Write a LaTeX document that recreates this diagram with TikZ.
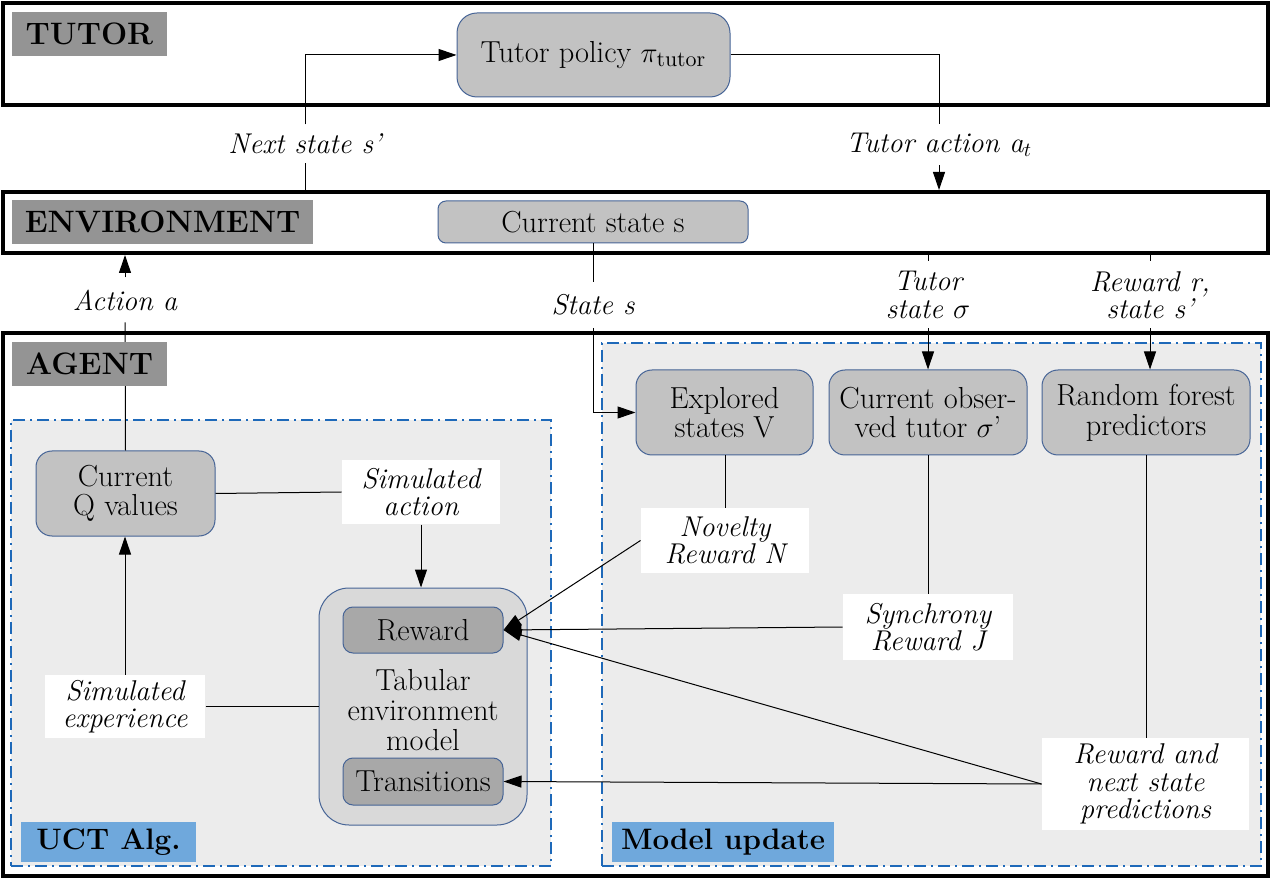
\documentclass[tikz,border=0pt]{standalone}
\usepackage{amsmath}
\usepackage{tikz}
\usetikzlibrary{arrows.meta}
\definecolor{taggray}{RGB}{148,148,148}
\definecolor{blockgray}{RGB}{194,194,194}
\definecolor{blockedge}{RGB}{70,100,150}
\definecolor{modelgray}{RGB}{217,217,217}
\definecolor{partgray}{RGB}{168,168,168}
\definecolor{regiongray}{RGB}{236,236,236}
\definecolor{regionblue}{RGB}{30,105,185}
\definecolor{tagblue}{RGB}{111,168,220}

\tikzset{
    layer/.style={draw, line width=2pt, minimum width=632.5pt},
    tag/.style={fill=taggray, inner sep=0pt, minimum height=22pt, font=\bfseries\fontsize{15.5}{16}\selectfont},
    subtag/.style={fill=tagblue, inner sep=0pt, minimum height=20pt, font=\bfseries\fontsize{14.8}{15}\selectfont},
    region/.style={draw=regionblue, fill=regiongray, line width=1pt, dash pattern=on 6pt off 2.5pt on 1pt off 2.5pt},
    block/.style={draw=blockedge, fill=blockgray, rounded corners=8pt, align=center, inner sep=1pt, line width=0.5pt, font=\fontsize{15.2}{14.8}\selectfont},
    part/.style={block, fill=partgray, rounded corners=5pt},
    note/.style={fill=white, align=center, inner sep=1pt, font=\itshape\fontsize{14.3}{13.7}\selectfont},
    flow/.style={-{Triangle[length=9pt,width=6pt]}}
}

\begin{document}
\begin{tikzpicture}[x=0.5pt, y=-0.5pt, line width=0.5pt]
    \useasboundingbox (0,0) rectangle (1273,881);

    \node[layer, minimum height=51pt] (tutorlayer) at (635.5,54) {};
    \node[layer, minimum height=30.5pt] (envlayer) at (635.5,222.5) {};
    \node[layer, minimum height=271.5pt] (agentlayer) at (635.5,604.5) {};

    \node[region, minimum width=270pt, minimum height=223pt] (uctregion) at (281,643) {};
    \node[region, minimum width=329.5pt, minimum height=261.5pt] (modelregion) at (931.5,604.5) {};

    \node[block, rounded corners=10pt, minimum width=136.5pt, minimum height=42pt] (tutorpolicy) at (593.5,55) {Tutor policy $\pi_{\mathrm{tutor}}$};
    \node[block, rounded corners=4pt, minimum width=155pt, minimum height=21pt] (curstate) at (593,222) {Current state s};

    \node[block, minimum width=89.5pt, minimum height=42.5pt] (qvalues) at (125.5,493.5) {Current\\Q values};
    \node[note, minimum width=79pt, minimum height=32pt] (simaction) at (421,492) {Simulated\\action};
    \node[block, fill=modelgray, rounded corners=15pt, minimum width=104pt, minimum height=118.5pt] (tabular) at (423,706.5) {};
    \node[block, draw=none, fill=none] (tabtext) at (423,710) {Tabular\\environment\\model};
    \node[part, minimum width=80pt, minimum height=23pt] (reward) at (423,630) {Reward};
    \node[part, minimum width=80pt, minimum height=23.5pt] (transitions) at (423,781.5) {Transitions};
    \node[note, minimum width=80pt, minimum height=31.5pt] (simexp) at (125,706.5) {Simulated\\experience};

    \node[block, minimum width=88.5pt, minimum height=42.5pt] (explored) at (724.5,412.5) {Explored\\states V};
    \node[block, minimum width=99pt, minimum height=42.5pt] (observed) at (928,412.5) {Current obser-\\ved tutor $\sigma$’};
    \node[block, minimum width=104pt, minimum height=42.5pt] (forest) at (1146,412.5) {Random forest\\predictors};
    \node[note, minimum width=84pt, minimum height=32.5pt] (novelty) at (725,540.5) {Novelty\\Reward N};
    \node[note, minimum width=85pt, minimum height=33pt] (synchrony) at (928,627) {Synchrony\\Reward J};
    \node[note, minimum width=103.5pt, minimum height=46pt] (predict) at (1145.5,784) {Reward and\\next state\\predictions};

    \node[note, minimum height=19pt] (nextlbl) at (305,144) {Next state s’};
    \node[note, minimum height=20pt] (tutoract) at (939,145) {Tutor action a$_t$};
    \node[note, minimum height=22pt] (actionlbl) at (125,300) {Action a};
    \node[note, minimum height=22.5pt] (statelbl) at (593,305) {State s};
    \node[note, minimum height=33pt] (tstatelbl) at (928,295) {Tutor\\state $\sigma$};
    \node[note, minimum height=33pt] (rwdlbl) at (1150,295) {Reward r,\\state s’};

    \draw (envlayer.north -| nextlbl.south) -- (nextlbl.south);
    \draw[flow] (nextlbl.north) |- (tutorpolicy.west);
    \draw (tutorpolicy.east) -| (tutoract.north);
    \draw[flow] (tutoract.south) -- (tutoract.south |- envlayer.north);
    \draw (qvalues.north) -- (actionlbl.south);
    \draw[flow] (actionlbl.north) -- (actionlbl.north |- envlayer.south);
    \draw (curstate.south) -- (statelbl.north);
    \draw[flow] (statelbl.south) |- (explored.west);
    \draw (envlayer.south -| tstatelbl.north) -- (tstatelbl.north);
    \draw[flow] (tstatelbl.south) -- (tstatelbl.south |- observed.north);
    \draw (envlayer.south -| rwdlbl.north) -- (rwdlbl.north);
    \draw[flow] (rwdlbl.south) -- (rwdlbl.south |- forest.north);

    \draw (qvalues.east) -- (simaction.west);
    \draw[flow] (simaction.south) -- (simaction.south |- tabular.north);
    \draw (simexp.east) -- (simexp.east -| tabular.west);
    \draw[flow] (simexp.north) -- (simexp.north |- qvalues.south);

    \draw (explored.south -| novelty.north) -- (novelty.north);
    \draw (observed.south) -- (synchrony.north);
    \draw (forest.south) -- (forest.south |- predict.north);
    \draw[flow] (novelty.west) -- (reward.east);
    \draw[flow] (synchrony.west) -- (reward.east);
    \draw[flow] (predict.west) -- (reward.east);
    \draw[flow] (predict.west) -- (transitions.east);

    \node[tag, minimum width=77.5pt] (tutortag) at (89.5,34) {TUTOR};
    \node[tag, minimum width=150.5pt] (envtag) at (162.5,222) {ENVIRONMENT};
    \node[tag, minimum width=77.5pt] (agenttag) at (89.5,364) {AGENT};
    \node[subtag, minimum width=87.5pt] (ucttag) at (108.5,842) {UCT Alg.};
    \node[subtag, minimum width=111pt] (modeltag) at (723,842) {Model update};
\end{tikzpicture}
\end{document}
